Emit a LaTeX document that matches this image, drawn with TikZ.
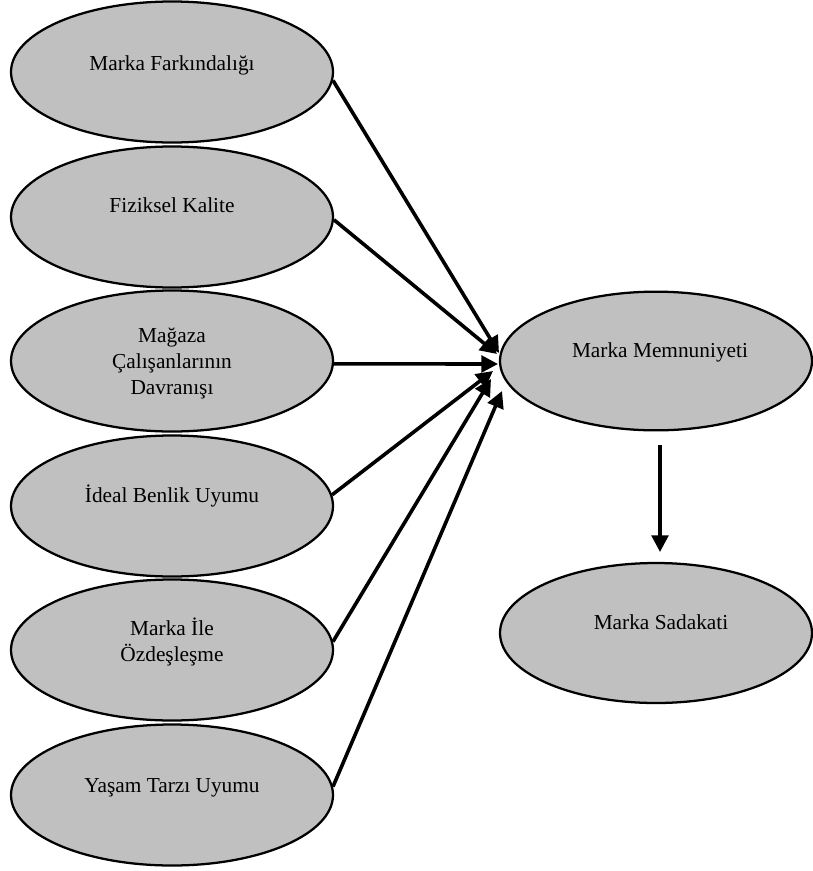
\documentclass[tikz,border=0pt]{standalone}
\usepackage{fontspec}
\setmainfont{Liberation Serif}
\usetikzlibrary{shapes.geometric,arrows.meta}
\definecolor{ovalgray}{RGB}{192,192,192}
\begin{document}
\begin{tikzpicture}[x=0.75pt,y=-0.75pt,
  oval/.style={ellipse, draw=black, line width=1.7pt, fill=ovalgray,
    inner sep=0pt, minimum width=241.5pt, minimum height=105.75pt},
  rightoval/.style={oval, minimum width=234pt, minimum height=104pt},
  caption/.style={font=\fontsize{16pt}{19.5pt}\selectfont, align=center,
    inner sep=0pt, text=black},
  link/.style={line width=2.7pt, -{Triangle[length=12.5pt,width=12.5pt]}}]
\useasboundingbox (0,0) rectangle (813,871);

% left column: the six antecedents
\node[oval] (fark) at (172,72)  {};
\node[oval] (fiz)  at (172,217) {};
\node[oval] (mag)  at (172,361) {};
\node[oval] (ideal) at (172,506) {};
\node[oval] (ozd)  at (172,650) {};
\node[oval] (yas)  at (172,795) {};

% right column: satisfaction and loyalty
\node[rightoval] (memn) at (656,361) {};
\node[rightoval, minimum height=105pt] (sad) at (656,633) {};

% captions
\node[caption, anchor=base] (tfark) at (172,70)  {Marka Farkındalığı};
\node[caption, anchor=base] (tfiz)  at (172,212) {Fiziksel Kalite};
\node[caption] (tmag) at (172,363) {Mağaza\\Çalışanlarının\\Davranışı};
\node[caption, anchor=base] (tideal) at (172,502) {İdeal Benlik Uyumu};
\node[caption] (tozd) at (172,642) {Marka İle\\Özdeşleşme};
\node[caption, anchor=base] (tyas) at (172,792) {Yaşam Tarzı Uyumu};
\node[caption, anchor=base] (tmemn) at (660,357) {Marka Memnuniyeti};
\node[caption, anchor=base] (tsad)  at (661,629) {Marka Sadakati};

% arrow tips gathered at the left side of the satisfaction oval
\coordinate (h1) at (499,353);
\coordinate (h2) at (497,354);
\coordinate (h3) at (498,364);
\coordinate (h4) at (493,371);
\coordinate (h5) at (491,379);
\coordinate (h6) at (502,391);

\draw[link] (fark.-3)  -- (h1);
\draw[link] (fiz.-1)   -- (h2);
\draw[link] (mag.-1)   -- (h3);
\draw[link] (ideal.4)  -- (h4);
\draw[link] (ozd.3)    -- (h5);
\draw[link] (yas.3)    -- (h6);

% satisfaction leads to loyalty
\coordinate (d0) at (660,445);
\coordinate (d1) at (660,552);
\draw[link] (d0) -- (d1);
\end{tikzpicture}
\end{document}
